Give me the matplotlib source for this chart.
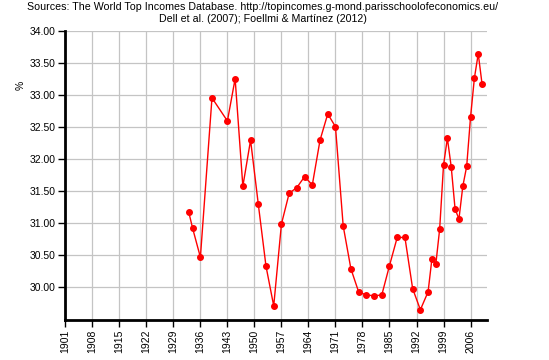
import numpy as np
import matplotlib
matplotlib.use('Agg')
import matplotlib.pyplot as plt

plt.rcParams['font.family'] = ['Liberation Sans', 'DejaVu Sans']

# -- data -- #
years = [1933, 1934, 1936, 1939, 1943, 1945, 1947, 1949, 1951, 1953, 1955,
         1957, 1959, 1961, 1963, 1965, 1967, 1969, 1971, 1973, 1975, 1977,
         1979, 1981, 1983, 1985, 1987, 1989, 1991, 1993, 1995, 1996, 1997,
         1998, 1999, 2000, 2001, 2002, 2003, 2004, 2005, 2006, 2007, 2008, 2009]
share = [31.16, 30.91, 30.46, 32.95, 32.59, 33.25, 31.57, 32.29, 31.29, 30.32, 29.70,
         30.98, 31.46, 31.55, 31.72, 31.59, 32.29, 32.70, 32.50, 30.95, 30.28, 29.92,
         29.87, 29.86, 29.87, 30.33, 30.77, 30.77, 29.97, 29.64, 29.92, 30.44, 30.35,
         30.90, 31.90, 32.32, 31.87, 31.21, 31.06, 31.57, 31.88, 32.65, 33.26, 33.64, 33.16]

xticks = list(range(1901, 2007, 7))
yticks = [30.0, 30.5, 31.0, 31.5, 32.0, 32.5, 33.0, 33.5, 34.0]

fig = plt.figure(figsize=(5.49, 3.6), dpi=100)
ax = fig.add_axes([0.119, 0.1111, 0.7676, 0.8036])

ax.plot(years, share, color='#ff0000', lw=1.0, marker='o', ms=4.0,
        markeredgecolor='#ff0000', zorder=3, clip_on=False)

ax.set_xlim(1901, 2010.2)
ax.set_ylim(29.48, 34.0)
ax.set_xticks(xticks)
ax.set_xticklabels([str(x) for x in xticks], rotation=90)
ax.set_yticks(yticks)
ax.set_yticklabels(['%.2f' % y for y in yticks])

ax.grid(True, color='#c4c4c4', lw=0.9)
ax.set_axisbelow(True)
for s in ['top', 'right']:
    ax.spines[s].set_visible(False)
for s in ['left', 'bottom']:
    ax.spines[s].set_linewidth(2)
ax.tick_params(axis='both', direction='out', length=5, width=1, labelsize=7.5, pad=2)

ax.set_ylabel('%', fontsize=7.5, rotation=90)
ax.yaxis.set_label_coords(-0.095, 0.81)

fig.text(0.479, 0.995, 'Sources: The World Top Incomes Database. http://topincomes.g-mond.parisschoolofeconomics.eu/',
         ha='center', va='top', fontsize=7.7)
fig.text(0.479, 0.96, 'Dell et al. (2007); Foellmi & Martínez (2012)',
         ha='center', va='top', fontsize=7.7)

plt.savefig('out.png', dpi=100)
plt.close('all')
